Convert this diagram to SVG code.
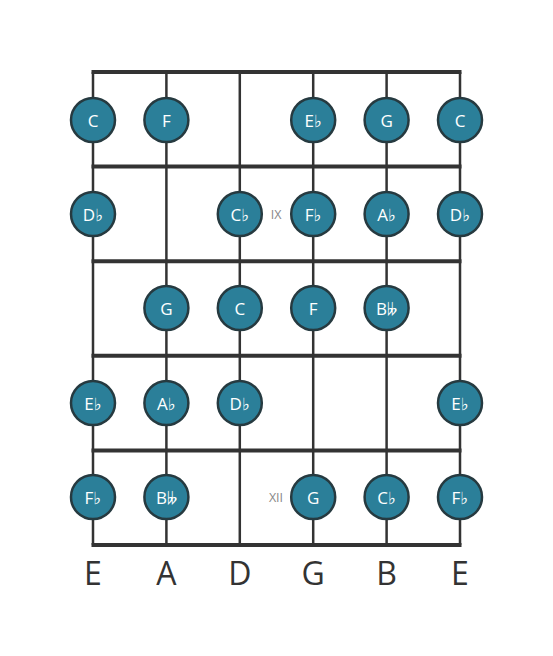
<svg xmlns="http://www.w3.org/2000/svg" width="553" height="656" viewBox="0 0 553 656">
<style>
.str{stroke:#333;stroke-width:2.5}
.fret{stroke:#333;stroke-width:4}
.n circle{fill:#2b7f99;stroke:#263a40;stroke-width:2.5}
.n text{fill:#fff;font-family:"Open Sans","DejaVu Sans",sans-serif;font-size:17px;text-anchor:middle;dominant-baseline:central}
.lbl{fill:#333;font-family:"Open Sans","DejaVu Sans",sans-serif;font-size:32px;text-anchor:middle}
.fm{fill:#888;font-family:"Open Sans","DejaVu Sans",sans-serif;font-size:12.5px;text-anchor:middle;dominant-baseline:central}
</style>
<rect width="553" height="656" fill="#fff"/>
<g id="connectors">
<line class="str" x1="93" y1="72" x2="93" y2="545"/>
<line class="str" x1="166.4" y1="72" x2="166.4" y2="545"/>
<line class="str" x1="239.8" y1="72" x2="239.8" y2="545"/>
<line class="str" x1="313.2" y1="72" x2="313.2" y2="545"/>
<line class="str" x1="386.6" y1="72" x2="386.6" y2="545"/>
<line class="str" x1="460" y1="72" x2="460" y2="545"/>
<line class="fret" x1="91.5" y1="72" x2="461.5" y2="72"/>
<line class="fret" x1="91.5" y1="166.6" x2="461.5" y2="166.6"/>
<line class="fret" x1="91.5" y1="261.2" x2="461.5" y2="261.2"/>
<line class="fret" x1="91.5" y1="355.8" x2="461.5" y2="355.8"/>
<line class="fret" x1="91.5" y1="450.4" x2="461.5" y2="450.4"/>
<line class="fret" x1="91.5" y1="545" x2="461.5" y2="545"/>
</g>
<text class="fm" x="276" y="214">IX</text>
<text class="fm" x="276" y="497">XII</text>
<g id="n1" class="n"><circle cx="93" cy="120" r="22"/><text x="93" y="120">C</text></g>
<g id="n2" class="n"><circle cx="166.4" cy="120" r="22"/><text x="166.4" y="120">F</text></g>
<g id="n3" class="n"><circle cx="313.2" cy="120" r="22"/><text x="313.2" y="120">E♭</text></g>
<g id="n4" class="n"><circle cx="386.6" cy="120" r="22"/><text x="386.6" y="120">G</text></g>
<g id="n5" class="n"><circle cx="460" cy="120" r="22"/><text x="460" y="120">C</text></g>
<g id="n6" class="n"><circle cx="93" cy="214" r="22"/><text x="93" y="214">D♭</text></g>
<g id="n7" class="n"><circle cx="239.8" cy="214" r="22"/><text x="239.8" y="214">C♭</text></g>
<g id="n8" class="n"><circle cx="313.2" cy="214" r="22"/><text x="313.2" y="214">F♭</text></g>
<g id="n9" class="n"><circle cx="386.6" cy="214" r="22"/><text x="386.6" y="214">A♭</text></g>
<g id="n10" class="n"><circle cx="460" cy="214" r="22"/><text x="460" y="214">D♭</text></g>
<g id="n11" class="n"><circle cx="166.4" cy="308" r="22"/><text x="166.4" y="308">G</text></g>
<g id="n12" class="n"><circle cx="239.8" cy="308" r="22"/><text x="239.8" y="308">C</text></g>
<g id="n13" class="n"><circle cx="313.2" cy="308" r="22"/><text x="313.2" y="308">F</text></g>
<g id="n14" class="n"><circle cx="386.6" cy="308" r="22"/><text x="386.6" y="308">B𝄫</text></g>
<g id="n15" class="n"><circle cx="93" cy="403" r="22"/><text x="93" y="403">E♭</text></g>
<g id="n16" class="n"><circle cx="166.4" cy="403" r="22"/><text x="166.4" y="403">A♭</text></g>
<g id="n17" class="n"><circle cx="239.8" cy="403" r="22"/><text x="239.8" y="403">D♭</text></g>
<g id="n18" class="n"><circle cx="460" cy="403" r="22"/><text x="460" y="403">E♭</text></g>
<g id="n19" class="n"><circle cx="93" cy="497" r="22"/><text x="93" y="497">F♭</text></g>
<g id="n20" class="n"><circle cx="166.4" cy="497" r="22"/><text x="166.4" y="497">B𝄫</text></g>
<g id="n21" class="n"><circle cx="313.2" cy="497" r="22"/><text x="313.2" y="497">G</text></g>
<g id="n22" class="n"><circle cx="386.6" cy="497" r="22"/><text x="386.6" y="497">C♭</text></g>
<g id="n23" class="n"><circle cx="460" cy="497" r="22"/><text x="460" y="497">F♭</text></g>
<text class="lbl" x="93" y="585">E</text>
<text class="lbl" x="166.4" y="585">A</text>
<text class="lbl" x="239.8" y="585">D</text>
<text class="lbl" x="313.2" y="585">G</text>
<text class="lbl" x="386.6" y="585">B</text>
<text class="lbl" x="460" y="585">E</text>
</svg>
